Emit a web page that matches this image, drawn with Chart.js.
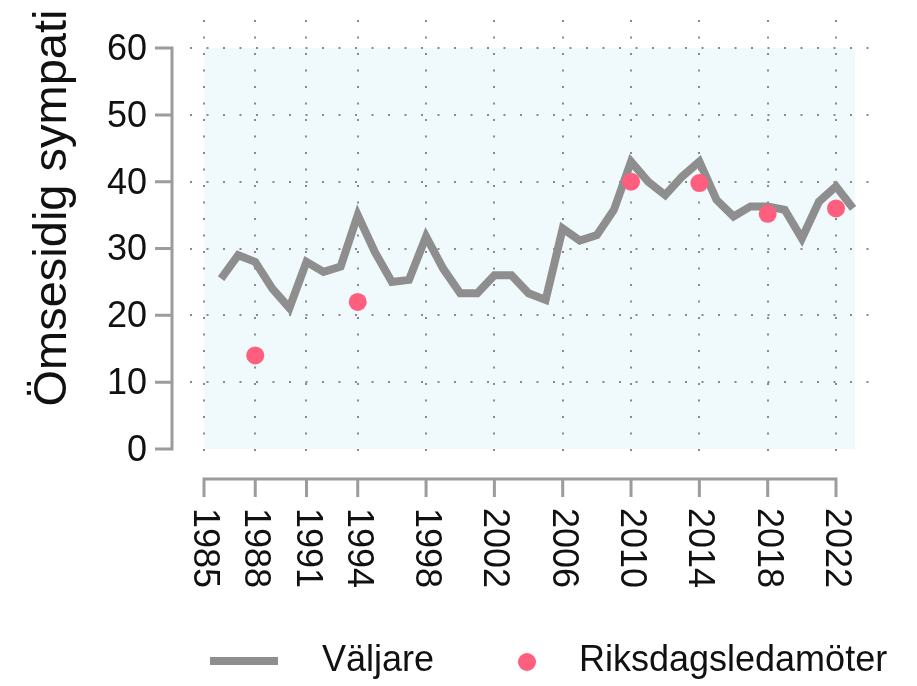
<!DOCTYPE html>
<html>
<head>
<meta charset="utf-8">
<script src="https://cdn.jsdelivr.net/npm/chart.js@4.4.1/dist/chart.umd.min.js"></script>
<style>
  html, body { margin: 0; padding: 0; background: #fff; }
</style>
</head>
<body>
<canvas id="chart" width="917" height="686"></canvas>
<script>
// voters (line), 1986-2023
const voterYears = [1986, 1987, 1988, 1989, 1990, 1991, 1992, 1993, 1994, 1995,
  1996, 1997, 1998, 1999, 2000, 2001, 2002, 2003, 2004, 2005,
  2006, 2007, 2008, 2009, 2010, 2011, 2012, 2013, 2014, 2015,
  2016, 2017, 2018, 2019, 2020, 2021, 2022, 2023];
const voterValues = [25.5, 29.0, 28.0, 24.0, 21.1, 28.0, 26.5, 27.3, 35.0, 29.5,
  25.0, 25.3, 31.8, 27.0, 23.3, 23.3, 26.0, 26.0, 23.3, 22.3,
  33.0, 31.2, 32.0, 35.8, 43.0, 40.0, 38.0, 40.8, 43.0, 37.3,
  34.8, 36.3, 36.3, 35.8, 31.5, 37.0, 39.3, 36.0];

// members of parliament (dots), election years
const mpYears = [1988, 1994, 2010, 2014, 2018, 2022];
const mpValues = [14.0, 22.0, 40.0, 39.8, 35.2, 36.0];

const yearTicks = [1985, 1988, 1991, 1994, 1998, 2002, 2006, 2010, 2014, 2018, 2022];
const valueTicks = [0, 10, 20, 30, 40, 50, 60];
const gridValues = [10, 20, 30, 40, 50, 60];

const yTitle = 'Ömsesidig sympati';
const seriesNames = ['Väljare', 'Riksdagsledamöter'];

const FONT = '"Liberation Sans", Arial, Helvetica, sans-serif';
const lineGray = '#8e8e8e';
const axisGray = '#9c9c9c';
const dotPink = '#ff5f7e';
const plotBlue = '#f0f9fc';

const stataLook = {
  id: 'stataLook',
  beforeDraw(chart) {
    const { ctx, scales: { x, y } } = chart;
    const left = x.getPixelForValue(1985);
    const right = x.getPixelForValue(2023.1);
    const top = y.getPixelForValue(60);
    const bottom = y.getPixelForValue(0);
    ctx.save();
    ctx.fillStyle = plotBlue;
    ctx.fillRect(left, top, right - left, bottom - top);
    ctx.restore();
  },
  afterDraw(chart) {
    const { ctx, chartArea, scales: { x, y } } = chart;
    ctx.save();
    ctx.strokeStyle = axisGray;
    ctx.lineWidth = 3;
    ctx.lineCap = 'butt';

    // y axis, pulled out to the left of the plot region
    const ax = chartArea.left - 18;
    ctx.beginPath();
    ctx.moveTo(ax, y.getPixelForValue(0) + 1.5);
    ctx.lineTo(ax, y.getPixelForValue(60) - 1.5);
    valueTicks.forEach(v => {
      const py = y.getPixelForValue(v);
      ctx.moveTo(ax, py);
      ctx.lineTo(ax - 17, py);
    });
    ctx.stroke();

    ctx.fillStyle = '#111';
    ctx.font = '36px ' + FONT;
    ctx.textAlign = 'right';
    ctx.textBaseline = 'middle';
    valueTicks.forEach(v => {
      ctx.fillText(String(v), ax - 25, y.getPixelForValue(v) + 2);
    });

    // x axis, pulled out below the plot region
    const ay = chartArea.bottom + 14;
    ctx.beginPath();
    ctx.moveTo(x.getPixelForValue(1985) - 1.5, ay);
    ctx.lineTo(x.getPixelForValue(2022) + 1.5, ay);
    yearTicks.forEach(v => {
      const px = x.getPixelForValue(v);
      ctx.moveTo(px, ay);
      ctx.lineTo(px, ay + 18);
    });
    ctx.stroke();

    ctx.textAlign = 'left';
    ctx.textBaseline = 'middle';
    yearTicks.forEach(v => {
      ctx.save();
      ctx.translate(x.getPixelForValue(v), ay + 29);
      ctx.rotate(Math.PI / 2);
      ctx.fillText(String(v), 0, 0);
      ctx.restore();
    });

    // y title
    ctx.save();
    ctx.font = '47px ' + FONT;
    ctx.textAlign = 'center';
    ctx.textBaseline = 'alphabetic';
    ctx.translate(66, 208);
    ctx.rotate(-Math.PI / 2);
    ctx.fillText(yTitle, 0, 0);
    ctx.restore();

    // legend
    const ly = 661;
    ctx.strokeStyle = lineGray;
    ctx.lineWidth = 8;
    ctx.beginPath();
    ctx.moveTo(210, ly);
    ctx.lineTo(278, ly);
    ctx.stroke();
    ctx.fillStyle = dotPink;
    ctx.beginPath();
    ctx.arc(527, ly + 1, 9, 0, Math.PI * 2);
    ctx.fill();
    ctx.fillStyle = '#111';
    ctx.font = '36px ' + FONT;
    ctx.textAlign = 'left';
    ctx.textBaseline = 'middle';
    ctx.fillText(seriesNames[0], 322, ly);
    ctx.fillText(seriesNames[1], 579, ly);
    ctx.restore();
  }
};

new Chart('chart', {
  type: 'scatter',
  data: {
    datasets: [{
      label: seriesNames[0],
      data: voterYears.map((yr, i) => ({ x: yr, y: voterValues[i] })),
      showLine: true,
      borderColor: lineGray,
      borderWidth: 8,
      pointRadius: 0,
      pointHoverRadius: 0,
      order: 2
    }, {
      label: seriesNames[1],
      data: mpYears.map((yr, i) => ({ x: yr, y: mpValues[i] })),
      showLine: false,
      backgroundColor: dotPink,
      borderWidth: 0,
      pointRadius: 9,
      order: 1
    }]
  },
  options: {
    responsive: false,
    animation: false,
    devicePixelRatio: 1,
    layout: { padding: { left: 190, right: 40, top: 20, bottom: 221 } },
    plugins: {
      legend: { display: false },
      tooltip: { enabled: false }
    },
    scales: {
      x: {
        type: 'linear',
        min: 1984.18,
        max: 2024.4,
        afterBuildTicks: s => { s.ticks = yearTicks.map(v => ({ value: v })); },
        ticks: { display: false },
        grid: { color: '#8a8a8a', lineWidth: 2, drawTicks: false },
        border: { display: false, dash: [2, 14.5] }
      },
      y: {
        type: 'linear',
        min: -2.4,
        max: 64.2,
        afterBuildTicks: s => { s.ticks = gridValues.map(v => ({ value: v })); },
        ticks: { display: false },
        grid: { color: '#8a8a8a', lineWidth: 2, drawTicks: false },
        border: { display: false, dash: [2, 14.5] }
      }
    }
  },
  plugins: [stataLook]
});
</script>
</body>
</html>
